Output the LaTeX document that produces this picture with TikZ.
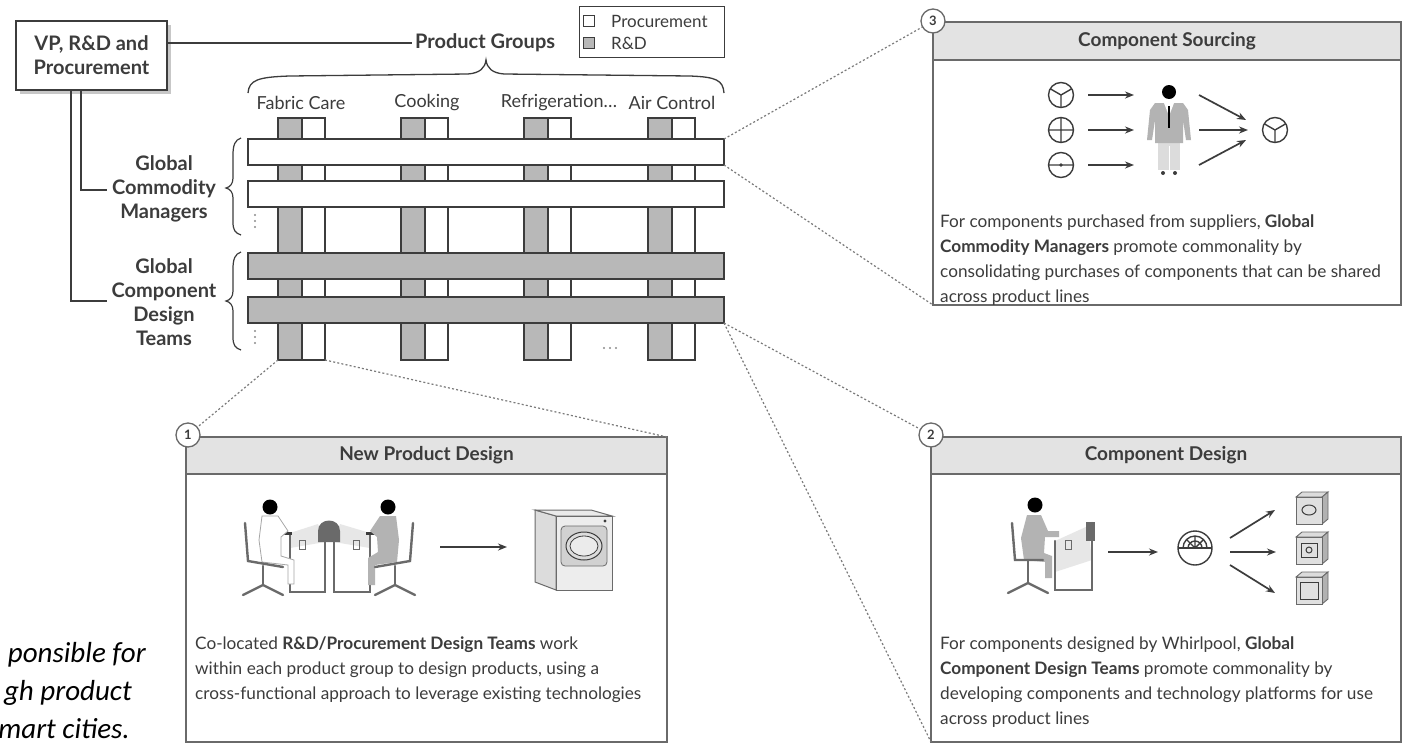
\documentclass[tikz,border=0pt]{standalone}
\usepackage{fontspec}
\setmainfont{Lato}
\newfontfamily\notefont{Carlito}
\usetikzlibrary{arrows.meta}
\definecolor{ink}{HTML}{3C3C3C}
\definecolor{rdgray}{HTML}{B8B8B8}
\definecolor{headgray}{HTML}{E3E3E3}
\definecolor{boxline}{HTML}{6A6A6A}
\definecolor{dotgray}{HTML}{7A7A7A}
\definecolor{suit}{HTML}{B3B3B3}
\definecolor{pale}{HTML}{DCDCDC}
\newcommand\txtbig{\fontsize{20}{24}\selectfont\bfseries}
\newcommand\txtlab{\fontsize{18}{20}\selectfont}
\newcommand\txtleg{\fontsize{17}{18}\selectfont}
\newcommand\txthead{\fontsize{19}{22}\selectfont\bfseries}
\newcommand\txtbody{\fontsize{17.2}{25}\selectfont}
\begin{document}
\begin{tikzpicture}[x=1pt,y=-1pt,
  ln/.style={draw=ink, line width=1.4pt},
  orgbox/.style={draw=ink, line width=1.6pt, fill=white, inner sep=0pt, align=center, font=\txtbig, text=ink},
  colg/.style={draw=ink, line width=1.3pt, fill=rdgray, inner sep=0pt, outer sep=0pt, anchor=north west, minimum width=24, minimum height=242},
  colw/.style={draw=ink, line width=1.3pt, fill=white, inner sep=0pt, outer sep=0pt, anchor=north west, minimum width=23, minimum height=242},
  barw/.style={draw=ink, line width=1.3pt, fill=white, inner sep=0pt, outer sep=0pt, anchor=north west, minimum width=476, minimum height=26},
  barg/.style={barw, fill=rdgray},
  panel/.style={draw=boxline, line width=1.6pt, fill=white, inner sep=0pt, outer sep=0pt, anchor=north west},
  headbar/.style={draw=boxline, line width=1.6pt, fill=headgray, inner sep=0pt, outer sep=0pt, anchor=north west, font=\txthead, text=ink},
  numc/.style={circle, draw=boxline, line width=1.3pt, fill=white, minimum size=24, inner sep=0pt, font=\fontsize{13}{13}\selectfont\bfseries, text=ink},
  dotc/.style={draw=dotgray, line width=1.2pt, dash pattern=on 2pt off 2.2pt},
  body/.style={inner sep=0pt, align=left, font=\txtbody, text=ink, anchor=north west},
  arr/.style={draw=ink, line width=1.7pt, -{Stealth[length=9pt,width=7pt]}},
  part/.style={draw=ink, line width=1.4pt},
  furn/.style={draw=boxline, line width=2.4pt, line cap=round},
  note/.style={inner sep=0pt, font=\notefont\itshape\fontsize{29}{36}\selectfont, text=black}
]
\useasboundingbox (0,0) rectangle (1403,745);
\fill[white] (0,0) rectangle (1403,745);

% ---------- organisation head and product groups ----------
\fill[black!22] (20,25) rectangle (171,94);
\node[orgbox, minimum width=151, minimum height=69] (vp) at (91.5,55.5) {VP, R\&D and\\Procurement};
\node[inner sep=0pt, anchor=west, font=\txtbig, text=ink] (pg) at (415,43) {Product Groups};
\draw[ln] (vp.east |- pg.west) -- ([xshift=-3]pg.west);

% legend
\node[draw=ink, line width=1.2pt, inner sep=0pt, anchor=north west, minimum width=145, minimum height=51] (legend) at (579,6) {};
\node[draw=ink, line width=1pt, fill=white, minimum size=11, inner sep=0pt] (lgp) at (589,21) {};
\node[draw=ink, line width=1pt, fill=rdgray, minimum size=11, inner sep=0pt] (lgr) at (589,43) {};
\node[inner sep=0pt, anchor=west, font=\txtleg, text=ink] (lgpt) at (611,21) {Procurement};
\node[inner sep=0pt, anchor=west, font=\txtleg, text=ink] (lgrt) at (611,43) {R\&D};

% brace over the product groups
\draw[ln, line width=1.3pt] (248,93) .. controls (249,80) and (258,77) .. (290,76) -- (468,74)
  .. controls (480,73) and (485,68) .. (486,60) .. controls (487,68) and (492,73) .. (504,74)
  -- (690,76) .. controls (716,77) and (723,80) .. (724,93);

% product group names
\node[font=\txtlab, text=ink, inner sep=0pt] (fc) at (301,103) {Fabric Care};
\node[font=\txtlab, text=ink, inner sep=0pt] (ck) at (427,103) {Cooking};
\node[font=\txtlab, text=ink, inner sep=0pt] (rf) at (559,103) {Refrigeration\ldots};
\node[font=\txtlab, text=ink, inner sep=0pt] (ac) at (672,103) {Air Control};

% ---------- matrix: columns (R&D + procurement) and cross bars ----------
\foreach \x/\n in {278/1, 401/2, 524/3, 648/4} {
  \node[colg] (cg\n) at (\x,118) {};
  \node[colw] (cw\n) at (\x+24,118) {};
}
\node[barw] (bar1) at (248,139) {};
\node[barw] (bar2) at (248,181) {};
\node[barg] (bar3) at (248,253) {};
\node[barg] (bar4) at (248,297) {};

% continuation marks
\foreach \y in {215,221,227} \fill[black!45] (255,\y) circle (1.1);
\foreach \y in {331,337,343} \fill[black!45] (255,\y) circle (1.1);
\foreach \x in {604,610,616} \fill[black!45] (\x,348) circle (1.1);

% side braces
\draw[ln, line width=1.2pt] (241,138) .. controls (235,140) and (233,145) .. (233,155) -- (233,178)
  .. controls (233,184) and (230,187) .. (226,188) .. controls (230,189) and (233,192) .. (233,198)
  -- (233,222) .. controls (233,230) and (235,233) .. (241,235);
\draw[ln, line width=1.2pt] (241,252) .. controls (235,254) and (233,259) .. (233,269) -- (233,291)
  .. controls (233,297) and (230,300) .. (226,301) .. controls (230,302) and (233,305) .. (233,311)
  -- (233,337) .. controls (233,345) and (235,348) .. (241,350);

% row labels and reporting lines
\node[font=\txtbig, text=ink, align=center, inner sep=0pt] (gcm) at (164,189) {Global\\Commodity\\Managers};
\node[font=\txtbig, text=ink, align=center, inner sep=0pt] (gcdt) at (164,302) {Global\\Component\\Design\\Teams};
\coordinate (gcmlink) at (107,190);
\coordinate (gcdtlink) at (107,301);
\draw[ln] ([xshift=-10.5]vp.south) |- (gcmlink);
\draw[ln] ([xshift=-20.5]vp.south) |- (gcdtlink);

% ---------- detail panels ----------
\node[panel, minimum width=481, minimum height=305] (b1) at (186,437) {};
\node[headbar, minimum width=481, minimum height=37] (h1) at (186,437) {New Product Design};
\node[panel, minimum width=470, minimum height=305] (b2) at (931,437) {};
\node[headbar, minimum width=470, minimum height=37] (h2) at (931,437) {Component Design};
\node[panel, minimum width=468, minimum height=283] (b3) at (933,22) {};
\node[headbar, minimum width=468, minimum height=38] (h3) at (933,22) {Component Sourcing};

% zoom lines from the matrix to the panels
\draw[dotc] (bar1.north east) -- (933,21);
\draw[dotc] (bar1.south east) -- (b3.south west);
\draw[dotc] (bar4.south east) -- (931,435);
\draw[dotc] (bar4.south east) -- (b2.south west);
\draw[dotc] (cg1.south west) -- (188,435);
\draw[dotc] (cw1.south east) -- (b1.north east);

\node[numc] (n1) at (188,435) {1};
\node[numc] (n2) at (931,435) {2};
\node[numc] (n3) at (933,21) {3};

% panel texts
\node[body] (t1) at (195,637) {Co-located \textbf{R\&D/Procurement Design Teams} work\\within each product group to design products, using a\\cross-functional approach to leverage existing technologies};
\node[body] (t2) at (940,637) {For components designed by Whirlpool, \textbf{Global}\\\textbf{Component Design Teams} promote commonality by\\developing components and technology platforms for use\\across product lines};
\node[body] (t3) at (940,215) {For components purchased from suppliers, \textbf{Global}\\\textbf{Commodity Managers} promote commonality by\\consolidating purchases of components that can be shared\\across product lines};

% ---------- panel 3 pictogram: sourcing ----------
\draw[part] (1061,95) circle (12.5);
\draw[part] (1061,95) -- ++(0,12.5) (1061,95) -- ++(-10.8,-6.25) (1061,95) -- ++(10.8,-6.25);
\draw[part] (1061,130) circle (12.5) (1048.5,130) -- (1073.5,130) (1061,117.5) -- (1061,142.5);
\draw[part] (1061,165) circle (12.5) (1048.5,165) -- (1073.5,165);
\fill[ink] (1061,165) circle (1.8);
\draw[arr] (1088,95) -- (1134,95);
\draw[arr] (1088,130) -- (1134,130);
\draw[arr] (1088,165) -- (1134,165);
% buyer
\fill[pale] (1158,141) rectangle (1180,170);
\draw[white, line width=1pt] (1169,146) -- (1169,170);
\fill[suit] (1155,103) -- (1183,103) -- (1188,110) -- (1191,140) -- (1186,140) -- (1183,120)
  -- (1183,143) -- (1155,143) -- (1155,120) -- (1152,140) -- (1147,140) -- (1150,110) -- cycle;
\fill[white] (1164,103) -- (1169,116) -- (1174,103) -- cycle;
\draw[black, line width=1.6pt] (1169,106) -- (1169,128);
\fill[black] (1169,92) circle (7);
\fill[ink] (1163,173) circle (2) (1175,173) circle (2);
\draw[arr] (1199,95) -- (1246,120);
\draw[arr] (1199,130) -- (1248,130);
\draw[arr] (1199,165) -- (1246,140);
\draw[part] (1275,130) circle (12.5);
\draw[part] (1275,130) -- ++(0,12.5) (1275,130) -- ++(-10.8,-6.25) (1275,130) -- ++(10.8,-6.25);

% ---------- panel 1 pictogram: co-located team ----------
% desks
\fill[pale!70] (290,533) -- (318,524) -- (325,542) -- (290,548) -- cycle;
\fill[pale!70] (370,533) -- (340,524) -- (334,542) -- (370,548) -- cycle;
\draw[furn] (290,534) -- (290,592) -- (325,592) -- (325,542);
\draw[furn] (370,534) -- (370,592) -- (334,592) -- (334,542);
\fill[boxline] (318,542) -- (318,531) .. controls (318,517) and (340,517) .. (340,531) -- (340,542) -- cycle;
\draw[boxline, line width=1pt] (299,540) rectangle (305,549) (353,540) rectangle (359,549);
\draw[ink, line width=3pt] (280,533) -- (292,533) (366,533) -- (378,533);
% left designer and chair
\filldraw[fill=white, draw=black!35, line width=0.8pt] (262,516) -- (278,516) -- (288,531) -- (281,537) -- (281,556) -- (294,560) -- (294,584) -- (288,584) -- (288,565) -- (262,562) -- (259,540) -- cycle;
\fill[black] (270,507) circle (7.5);
\draw[furn] (245,523) -- (248,561) -- (283,567);
\draw[furn] (263,566) -- (263,585);
\draw[furn] (243,595) -- (263,585) -- (283,595);
% right designer and chair
\fill[suit] (380,516) -- (396,516) -- (399,540) -- (397,562) -- (375,565) -- (375,585) -- (368,585) -- (368,558) -- (378,552) -- (377,537) -- (370,531) -- cycle;
\fill[black] (388,507) circle (7.5);
\draw[furn] (413,523) -- (410,561) -- (375,567);
\draw[furn] (395,566) -- (395,585);
\draw[furn] (375,595) -- (395,585) -- (415,595);
\draw[arr] (440,547) -- (507,547);
% washer
\filldraw[fill=pale, draw=boxline, line width=1pt] (535,510) -- (556,516) -- (556,590) -- (535,582) -- cycle;
\filldraw[fill=pale!60, draw=boxline, line width=1pt] (535,510) -- (591,510) -- (612,516) -- (556,516) -- cycle;
\filldraw[fill=black!7, draw=boxline, line width=1pt] (556,516) rectangle (612,590);
\filldraw[fill=black!18, draw=boxline, line width=0.8pt, rounded corners=4pt] (561,526) rectangle (607,566);
\filldraw[fill=pale, draw=ink, line width=1pt] (584,546) ellipse [x radius=18, y radius=14];
\filldraw[fill=black!8, draw=ink, line width=0.8pt] (584,546) ellipse [x radius=14, y radius=10];
\fill[ink] (605,521) circle (1.6);

% ---------- panel 2 pictogram: component designer ----------
\fill[pale!70] (1055,541) -- (1088,526) -- (1092,560) -- (1055,572) -- cycle;
\draw[furn] (1055,541) -- (1055,590) -- (1092,590) -- (1092,523);
\fill[boxline] (1086,522) rectangle (1095,541);
\draw[boxline, line width=1pt] (1065,540) rectangle (1071,549);
\fill[suit] (1027,515) -- (1041,515) -- (1048,531) -- (1059,531) -- (1059,537) -- (1045,537) -- (1044,553)
  -- (1052,556) -- (1052,578) -- (1045,578) -- (1045,562) -- (1024,560) -- (1021,538) -- cycle;
\fill[black] (1035,505) circle (7.5);
\draw[furn] (1012,523) -- (1015,560) -- (1043,560);
\draw[furn] (1028,560) -- (1028,583);
\draw[furn] (1008,593) -- (1028,583) -- (1048,593);
\draw[arr] (1108,552) -- (1158,552);
% platform dial
\draw[part] (1195,548) circle (17);
\draw[part] (1178,548) -- (1212,548);
\draw[part] (1207,548) arc[start angle=0, end angle=-180, radius=12];
\draw[part] (1202,548) arc[start angle=0, end angle=-180, radius=7];
\draw[part] (1195,548) -- (1195,536) (1195,548) -- (1203.5,539.5) (1195,548) -- (1186.5,539.5);
\draw[arr] (1230,538) -- (1275,510);
\draw[arr] (1230,552) -- (1276,552);
\draw[arr] (1230,565) -- (1275,593);
% derived appliances
\foreach \t/\k in {492/1, 532/2, 572/3} {
  \filldraw[fill=pale, draw=boxline, line width=0.9pt] (1296,\t+5) -- (1302,\t) -- (1328,\t) -- (1322,\t+5) -- cycle;
  \filldraw[fill=black!30, draw=boxline, line width=0.9pt] (1322,\t+5) -- (1328,\t) -- (1328,\t+27) -- (1322,\t+32) -- cycle;
  \filldraw[fill=black!12, draw=boxline, line width=0.9pt] (1296,\t+5) rectangle (1322,\t+32);
}
\draw[ink, line width=1pt] (1309,510) ellipse [x radius=7, y radius=5];
\draw[ink, line width=1pt] (1301,543) rectangle (1317,557);
\draw[ink, line width=1pt] (1309,550) circle (3);
\draw[ink, line width=1pt] (1300,582) rectangle (1318,599);

% ---------- overlapping caption fragment ----------
\node[note, anchor=base east] (nt1) at (146,662) {ponsible for};
\node[note, anchor=base east] (nt2) at (132,700) {gh product};
\node[note, anchor=base east] (nt3) at (130,738) {mart cities.};
\end{tikzpicture}
\end{document}
